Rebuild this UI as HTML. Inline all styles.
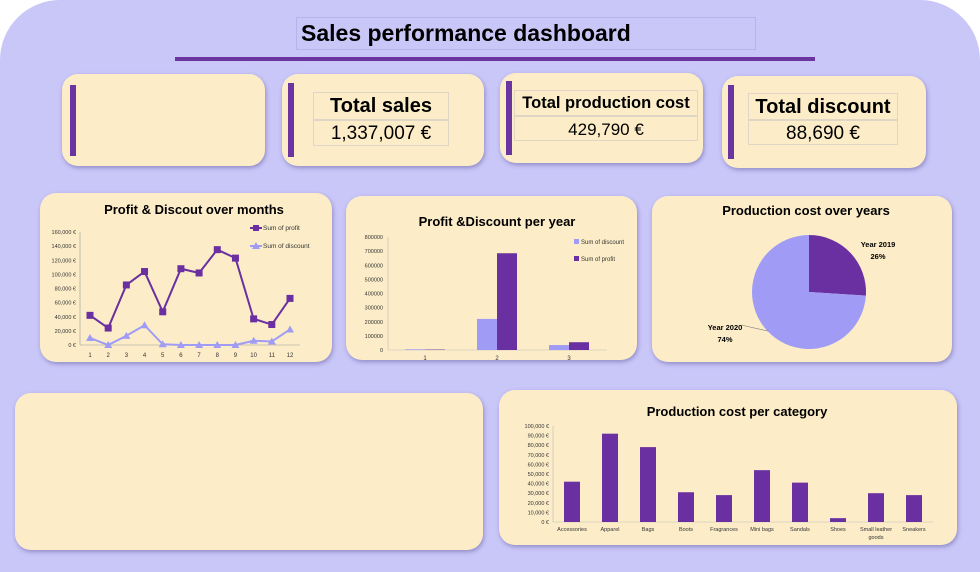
<!DOCTYPE html>
<html><head><meta charset="utf-8"><style>
*{margin:0;padding:0;box-sizing:border-box}
body{width:980px;height:572px;overflow:hidden;background:#fff;font-family:"Liberation Sans",sans-serif;position:relative}
#bg{position:absolute;left:0;top:0;width:980px;height:572px;background:#c9c6f8;border-radius:60px 60px 0 0}
.card{position:absolute;background:#fcedc8;border-radius:16px;box-shadow:1px 2px 4px rgba(80,70,140,.45)}
.bar{position:absolute;background:#6a35a0;width:6px}
.kbox{position:absolute;border:1px solid #e0d6c6;text-align:center;color:#000;white-space:nowrap;overflow:hidden}
.t{font-weight:bold;font-size:20px;line-height:27px}
.v{font-size:19px;line-height:25px}
svg{position:absolute;left:0;top:0}
svg text{font-family:"Liberation Sans",sans-serif}
</style></head><body>
<div id="bg"></div>
<div style="position:absolute;left:296px;top:17px;width:460px;height:33px;border:1px solid #b9b2e8;font-weight:bold;font-size:23px;line-height:31px;padding-left:4px">Sales performance dashboard</div>
<div style="position:absolute;left:175px;top:57px;width:640px;height:4px;background:#6a35a0"></div>

<div class="card" style="left:62px;top:74px;width:203px;height:92px"><div class="bar" style="left:8px;top:11px;height:71px"></div></div>
<div class="card" style="left:282px;top:74px;width:202px;height:92px"><div class="bar" style="left:6px;top:9px;height:74px"></div>
<div class="kbox t" style="left:31px;top:18px;width:136px;height:28px">Total sales</div>
<div class="kbox v" style="left:31px;top:46px;width:136px;height:26px">1,337,007 €</div></div>
<div class="card" style="left:500px;top:73px;width:203px;height:90px"><div class="bar" style="left:6px;top:8px;height:74px"></div>
<div class="kbox t" style="left:14px;top:17px;width:184px;height:26px;font-size:16.5px;line-height:25px">Total production cost</div>
<div class="kbox v" style="left:14px;top:43px;width:184px;height:25px;font-size:17px">429,790 €</div></div>
<div class="card" style="left:722px;top:76px;width:204px;height:92px"><div class="bar" style="left:6px;top:9px;height:74px"></div>
<div class="kbox t" style="left:26px;top:17px;width:150px;height:27px">Total discount</div>
<div class="kbox v" style="left:26px;top:44px;width:150px;height:25px">88,690 €</div></div>

<div class="card" style="left:40px;top:193px;width:292px;height:169px"></div>
<div class="card" style="left:346px;top:196px;width:291px;height:164px"></div>
<div class="card" style="left:652px;top:196px;width:300px;height:166px"></div>
<div class="card" style="left:15px;top:393px;width:468px;height:157px"></div>
<div class="card" style="left:499px;top:390px;width:458px;height:155px"></div>

<svg id="s" width="980" height="572"></svg>
<script>
const months=["1","2","3","4","5","6","7","8","9","10","11","12"];
const profitM=[42000,24000,85000,104000,47000,108000,102000,135000,123000,37000,29000,66000];
const discountM=[10000,0,13000,28000,1000,0,0,0,0,6000,5000,22000];
const monthTicks=[0,20000,40000,60000,80000,100000,120000,140000,160000];
const years=["1","2","3"];
const discountY=[5000,220000,35000];
const profitY=[3000,685000,55000];
const yearTicks=[0,100000,200000,300000,400000,500000,600000,700000,800000];
const pieLabels=["Year 2019","Year 2020"];
const pieValues=[26,74];
const cats=["Accessories","Apparel","Bags","Boots","Fragrances","Mini bags","Sandals","Shoes","Small leather goods","Sneakers"];
const catValues=[42000,92000,78000,31000,28000,54000,41000,4000,30000,28000];
const catTicks=[0,10000,20000,30000,40000,50000,60000,70000,80000,90000,100000];

const S=document.getElementById('s');const NS='http://www.w3.org/2000/svg';
function el(t,a,txt){const e=document.createElementNS(NS,t);for(const k in a)e.setAttribute(k,a[k]);if(txt!==undefined)e.textContent=txt;S.appendChild(e);return e;}
const P='#6a2fa0',L='#a09cf5';
const eur=v=>v.toLocaleString('en-US')+' €';

// line chart
el('text',{x:194,y:214,'font-size':13,'font-weight':'bold','text-anchor':'middle'},'Profit & Discout over months');
const lx=i=>90+i*(200/11), ly=v=>345-v/160000*113;
el('line',{x1:80,y1:232,x2:80,y2:345,stroke:'#999','stroke-width':0.6});
el('line',{x1:80,y1:345,x2:300,y2:345,stroke:'#999','stroke-width':0.6});
monthTicks.forEach(t=>{const a=el('text',{x:76,y:ly(t)+2,'font-size':5.5,'text-anchor':'end',fill:'#333'},eur(t));});
months.forEach((m,i)=>{const a=el('text',{x:lx(i),y:357,'font-size':6,'text-anchor':'middle',fill:'#333'},m);});
let pp=el('polyline',{points:profitM.map((v,i)=>lx(i)+','+ly(v)).join(' '),fill:'none',stroke:P,'stroke-width':2});

let dp=el('polyline',{points:discountM.map((v,i)=>lx(i)+','+ly(v)).join(' '),fill:'none',stroke:L,'stroke-width':2});

profitM.forEach((v,i)=>{const r=el('rect',{x:lx(i)-3.5,y:ly(v)-3.5,width:7,height:7,fill:P});});
discountM.forEach((v,i)=>{const x=lx(i),y=ly(v);const r=el('polygon',{points:`${x},${y-4} ${x+4},${y+3} ${x-4},${y+3}`,fill:L});});
el('line',{x1:250,y1:228,x2:262,y2:228,stroke:P,'stroke-width':2});el('rect',{x:253,y:225,width:6,height:6,fill:P});
el('text',{x:263,y:230,'font-size':6.5,fill:'#333'},'Sum of profit');
el('line',{x1:250,y1:246,x2:262,y2:246,stroke:L,'stroke-width':2});el('polygon',{points:'256,242 260,249 252,249',fill:L});
el('text',{x:263,y:248,'font-size':6.5,fill:'#333'},'Sum of discount');

// year bar chart
el('text',{x:497,y:226,'font-size':13,'font-weight':'bold','text-anchor':'middle'},'Profit &Discount per year');
const by=v=>350-v/800000*113, bc=i=>425+i*72;
el('line',{x1:388,y1:237,x2:388,y2:350,stroke:'#bbb','stroke-width':0.6});
el('line',{x1:388,y1:350,x2:607,y2:350,stroke:'#bbb','stroke-width':0.6});
yearTicks.forEach(t=>{const a=el('text',{x:383,y:by(t)+2,'font-size':5.5,'text-anchor':'end',fill:'#333'},t);});
years.forEach((y,i)=>{const a=el('text',{x:bc(i),y:360,'font-size':6,'text-anchor':'middle',fill:'#333'},y);
const r1=el('rect',{x:bc(i)-20,y:by(discountY[i]),width:20,height:350-by(discountY[i]),fill:L});
const r2=el('rect',{x:bc(i),y:by(profitY[i]),width:20,height:350-by(profitY[i]),fill:P});});
el('rect',{x:574,y:239,width:5,height:5,fill:L});el('text',{x:581,y:244,'font-size':6,fill:'#333'},'Sum of discount');
el('rect',{x:574,y:256,width:5,height:5,fill:P});el('text',{x:581,y:261,'font-size':6,fill:'#333'},'Sum of profit');

// pie
el('text',{x:806,y:215,'font-size':13,'font-weight':'bold','text-anchor':'middle'},'Production cost over years');
const cx=809,cy=292,R=57;const tot=pieValues.reduce((a,b)=>a+b,0);let ang=-Math.PI/2;const pc=[P,L];
pieValues.forEach((v,i)=>{const a2=ang+v/tot*2*Math.PI;const big=(a2-ang)>Math.PI?1:0;
const p=el('path',{d:`M${cx},${cy} L${cx+R*Math.cos(ang)},${cy+R*Math.sin(ang)} A${R},${R} 0 ${big} 1 ${cx+R*Math.cos(a2)},${cy+R*Math.sin(a2)} Z`,fill:pc[i]});
ang=a2;});
el('text',{x:878,y:247,'font-size':7.5,'font-weight':'bold','text-anchor':'middle'},pieLabels[0]);
el('text',{x:878,y:259,'font-size':7.5,'font-weight':'bold','text-anchor':'middle'},pieValues[0]+'%');
el('text',{x:725,y:330,'font-size':7.5,'font-weight':'bold','text-anchor':'middle'},pieLabels[1]);
el('text',{x:725,y:342,'font-size':7.5,'font-weight':'bold','text-anchor':'middle'},pieValues[1]+'%');
el('line',{x1:741,y1:325,x2:768,y2:331,stroke:'#777','stroke-width':0.6});

// category chart
el('text',{x:737,y:416,'font-size':13,'font-weight':'bold','text-anchor':'middle'},'Production cost per category');
const cyv=v=>522-v/100000*96, ccx=i=>553+38*i+19;
el('line',{x1:553,y1:426,x2:553,y2:522,stroke:'#bbb','stroke-width':0.6});
el('line',{x1:553,y1:522,x2:933,y2:522,stroke:'#bbb','stroke-width':0.6});
catTicks.forEach(t=>{const a=el('text',{x:549,y:cyv(t)+2,'font-size':5.5,'text-anchor':'end',fill:'#333'},eur(t));});
cats.forEach((c,i)=>{const r=el('rect',{x:ccx(i)-8,y:cyv(catValues[i]),width:16,height:522-cyv(catValues[i]),fill:P});
const w=c.split(' ');const l1=w.length>2?w.slice(0,2).join(' '):c;const a=el('text',{x:ccx(i),y:531,'font-size':5.5,'text-anchor':'middle',fill:'#333'},l1);
if(w.length>2)el('text',{x:ccx(i),y:539,'font-size':5.5,'text-anchor':'middle',fill:'#333'},w.slice(2).join(' '));});
</script>
</body></html>
